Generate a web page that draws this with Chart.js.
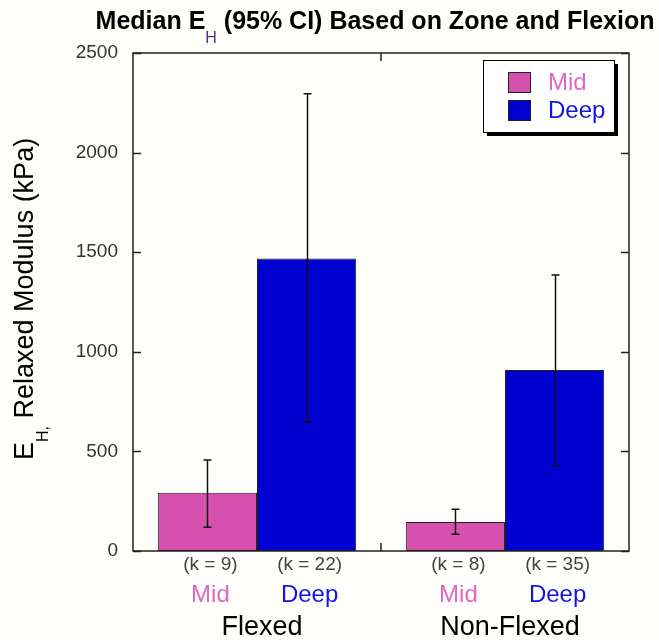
<!DOCTYPE html>
<html>
<head>
<meta charset="utf-8">
<script src="https://cdn.jsdelivr.net/npm/chart.js@4.4.1/dist/chart.umd.min.js"></script>
<style>
  body { margin: 0; background: #fefefb; }
  #wrap { width: 659px; height: 640px; }
</style>
</head>
<body>
<div id="wrap"><canvas id="c" width="659" height="640"></canvas></div>
<script>
// data
const groups = ['Flexed', 'Non-Flexed'];
const zones = ['Mid', 'Deep'];
const midMedian = [293, 146];
const midLow = [119, 84];
const midHigh = [457, 209];
const deepMedian = [1469, 909];
const deepLow = [649, 428];
const deepHigh = [2295, 1386];
const midCounts = [9, 8];
const deepCounts = [22, 35];
const yTicks = [0, 500, 1000, 1500, 2000, 2500];

const FONT = "'Liberation Sans', Arial, sans-serif";
const midFill = '#d651ae', deepFill = '#0000d0';
const midText = '#e068c2', deepText = '#1414e0';

function drawRuns(ctx, x, y, runs){
  // draws text pieces one after another, returns end x
  runs.forEach(r => {
    ctx.font = r.font;
    ctx.fillStyle = r.color || '#000';
    ctx.fillText(r.t, x, y + (r.dy || 0));
    x += ctx.measureText(r.t).width;
  });
  return x;
}
function runsWidth(ctx, runs){
  let w = 0;
  runs.forEach(r => { ctx.font = r.font; w += ctx.measureText(r.t).width; });
  return w;
}

const decor = {
  id: 'decor',
  afterDatasetsDraw(chart){
    const ctx = chart.ctx, a = chart.chartArea, y = chart.scales.y;
    ctx.save();
    // error bars
    const lows = [midLow, deepLow], highs = [midHigh, deepHigh];
    ctx.strokeStyle = '#111'; ctx.lineWidth = 1.5;
    chart.data.datasets.forEach((ds, i) => {
      chart.getDatasetMeta(i).data.forEach((bar, j) => {
        const x = Math.round(bar.x) + 0.5;
        const y1 = y.getPixelForValue(lows[i][j]), y2 = y.getPixelForValue(highs[i][j]);
        ctx.beginPath();
        ctx.moveTo(x, y1); ctx.lineTo(x, y2);
        ctx.moveTo(x - 4, y1); ctx.lineTo(x + 4, y1);
        ctx.moveTo(x - 4, y2); ctx.lineTo(x + 4, y2);
        ctx.stroke();
      });
    });
    // frame
    ctx.strokeStyle = '#222'; ctx.lineWidth = 1.5;
    ctx.strokeRect(a.left, a.top, a.right - a.left, a.bottom - a.top);
    // inward ticks
    ctx.beginPath();
    yTicks.forEach(v => {
      const py = Math.round(y.getPixelForValue(v)) + 0.5;
      ctx.moveTo(a.left, py); ctx.lineTo(a.left + 8, py);
      ctx.moveTo(a.right, py); ctx.lineTo(a.right - 8, py);
    });
    const mid = (a.left + a.right) / 2;
    ctx.moveTo(mid, a.top); ctx.lineTo(mid, a.top + 8);
    ctx.moveTo(mid, a.bottom); ctx.lineTo(mid, a.bottom - 8);
    ctx.stroke();
    ctx.restore();
  },
  afterDraw(chart){
    const ctx = chart.ctx, a = chart.chartArea, xs = chart.scales.x;
    ctx.save();
    ctx.textBaseline = 'alphabetic';
    // title
    const title = [
      {t: 'Median E', font: 'bold 25px ' + FONT},
      {t: 'H', font: '16px ' + FONT, dy: 14, color: '#5a2a90'},
      {t: ' (95% CI) Based on Zone and Flexion', font: 'bold 25px ' + FONT}
    ];
    ctx.textAlign = 'left';
    drawRuns(ctx, 375 - runsWidth(ctx, title) / 2, 29, title);
    // y axis title
    ctx.save();
    ctx.translate(33, 460);
    ctx.rotate(-Math.PI / 2);
    drawRuns(ctx, 0, 0, [
      {t: 'E', font: '27px ' + FONT},
      {t: 'H,', font: '16px ' + FONT, dy: 15},
      {t: ' Relaxed Modulus (kPa)', font: '27px ' + FONT}
    ]);
    ctx.restore();
    // x labels under bars
    ctx.textAlign = 'center';
    const counts = [midCounts, deepCounts], tcols = [midText, deepText];
    chart.data.datasets.forEach((ds, i) => {
      chart.getDatasetMeta(i).data.forEach((bar, j) => {
        ctx.font = '19px ' + FONT; ctx.fillStyle = '#444';
        ctx.fillText('(k = ' + counts[i][j] + ')', bar.x + 3, 570);
        ctx.font = '24px ' + FONT; ctx.fillStyle = tcols[i];
        ctx.fillText(ds.label, bar.x + 3, 602);
      });
    });
    ctx.font = '27px ' + FONT; ctx.fillStyle = '#000';
    groups.forEach((g, j) => ctx.fillText(g, xs.getPixelForValue(j) + 5, 635));
    // legend
    const lx = 483, ly = 60, lw = 131, lh = 72;
    ctx.fillStyle = '#000';
    ctx.fillRect(lx + 4, ly + 4, lw, lh);
    ctx.fillStyle = '#fff';
    ctx.fillRect(lx, ly, lw, lh);
    ctx.strokeStyle = '#000'; ctx.lineWidth = 1;
    ctx.strokeRect(lx + 0.5, ly + 0.5, lw, lh);
    ctx.textAlign = 'left';
    chart.data.datasets.forEach((ds, i) => {
      const sy = ly + 12 + i * 28;
      ctx.fillStyle = ds.backgroundColor;
      ctx.fillRect(lx + 25, sy, 22, 20);
      ctx.strokeStyle = '#222';
      ctx.strokeRect(lx + 25.5, sy + 0.5, 22, 20);
      ctx.font = '24px ' + FONT; ctx.fillStyle = tcols[i];
      ctx.fillText(ds.label, lx + 65, sy + 18);
    });
    ctx.restore();
  }
};

new Chart(document.getElementById('c'), {
  type: 'bar',
  data: {
    labels: groups,
    datasets: [
      { label: zones[0], data: midMedian, backgroundColor: midFill, borderColor: '#222', borderWidth: 1, borderSkipped: false },
      { label: zones[1], data: deepMedian, backgroundColor: deepFill, borderColor: '#222', borderWidth: 1, borderSkipped: false }
    ]
  },
  options: {
    responsive: false,
    animation: false,
    layout: { padding: { left: 0, right: 30, top: 53, bottom: 89 } },
    datasets: { bar: { categoryPercentage: 0.8, barPercentage: 1.0 } },
    plugins: { legend: { display: false }, tooltip: { enabled: false }, title: { display: false } },
    scales: {
      x: { display: false, offset: true },
      y: {
        min: 0, max: 2500,
        afterFit: s => { s.width = 133; },
        afterBuildTicks: s => { s.ticks = yTicks.map(v => ({ value: v })); },
        grid: { display: false, drawTicks: false },
        border: { display: false },
        ticks: { padding: 15, color: '#333', font: { family: FONT, size: 19 }, callback: v => String(v) }
      }
    }
  },
  plugins: [decor]
});
</script>
</body>
</html>
